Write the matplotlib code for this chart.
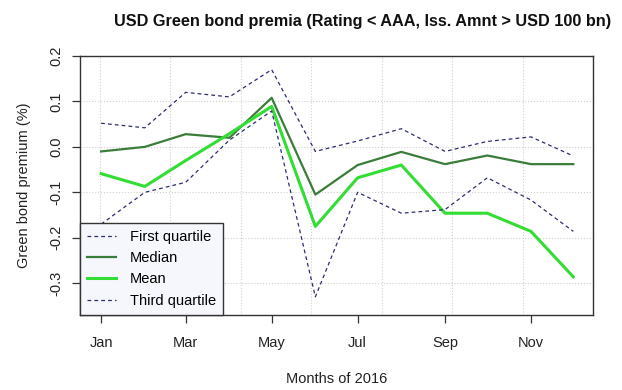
import matplotlib
matplotlib.use("Agg")
import matplotlib.pyplot as plt
import numpy as np

months = np.arange("2016-01", "2017-01", dtype="datetime64[M]").astype("datetime64[D]")

first_quartile = [0.052, 0.042, 0.12, 0.11, 0.17, -0.01, 0.013, 0.04, -0.01, 0.012, 0.022, -0.02]
median = [-0.01, 0.0, 0.028, 0.02, 0.108, -0.105, -0.04, -0.011, -0.038, -0.019, -0.038, -0.038]
mean = [-0.059, -0.087, -0.03, 0.029, 0.089, -0.175, -0.068, -0.04, -0.146, -0.146, -0.186, -0.286]
third_quartile = [-0.17, -0.1, -0.078, 0.015, 0.079, -0.33, -0.1, -0.146, -0.138, -0.068, -0.117, -0.186]

tick_months = ["Jan", "Mar", "May", "Jul", "Sep", "Nov"]
y_ticks = [-0.3, -0.2, -0.1, 0.0, 0.1, 0.2]

plt.rcParams["font.family"] = ["Liberation Sans", "DejaVu Sans"]

fig = plt.figure(figsize=(6.22, 3.9), dpi=100)
ax = fig.add_axes([0.1286, 0.1923, 0.8248, 0.6641])

quart_color = "#2c2c70"
ax.plot(months, first_quartile, color=quart_color, lw=0.9, ls=(0, (3, 2.5)),
        label="First quartile", zorder=3)
ax.plot(months, median, color="#3a7d3a", lw=1.6, label="Median", zorder=3)
ax.plot(months, mean, color="#33dd33", lw=2.2, label="Mean", zorder=3)
ax.plot(months, third_quartile, color=quart_color, lw=0.9, ls=(0, (3, 2.5)),
        label="Third quartile", zorder=3)

# grid follows plain day numbers every 50 days, like base graphics
day0 = np.datetime64("1970-01-01")
grid_days = [day0 + np.timedelta64(int(d), "D") for d in range(16800, 17200, 50)]
for g in grid_days:
    ax.axvline(g, color="#d0d0d0", lw=0.8, ls=":", zorder=1)
for v in y_ticks:
    ax.axhline(v, color="#d0d0d0", lw=0.8, ls=":", zorder=1)

ax.set_xlim(np.datetime64("2015-12-17"), np.datetime64("2016-12-15"))
ax.set_ylim(-0.37, 0.2)

tick_dates = [np.datetime64(f"2016-{m:02d}-01") for m in (1, 3, 5, 7, 9, 11)]
ax.set_xticks(tick_dates)
ax.set_xticklabels(tick_months, fontsize=10.5, color="#222222")
ax.set_yticks(y_ticks)
ax.set_yticklabels([f"{v:.1f}" for v in y_ticks], rotation=90, va="center",
                   fontsize=10.5, color="#222222")
ax.tick_params(axis="both", length=6, width=0.9, color="#333333", direction="out")
ax.tick_params(axis="x", pad=9)
ax.tick_params(axis="y", pad=6)

for s in ax.spines.values():
    s.set_color("#333333")
    s.set_linewidth(1.0)

ax.set_xlabel("Months of 2016", fontsize=10.5, color="#222222", labelpad=16)
ax.set_ylabel("Green bond premium (%)", fontsize=10.5, color="#222222", labelpad=13)
fig.text(0.583, 0.946, "USD Green bond premia (Rating < AAA, Iss. Amnt > USD 100 bn)",
         ha="center", va="center", fontsize=11.7, fontweight="bold", color="#111111")

leg = ax.legend(loc="lower left", bbox_to_anchor=(0, 0), fontsize=10.5, frameon=True,
                fancybox=False, borderaxespad=0, handlelength=2.0, handletextpad=0.9,
                labelspacing=0.5, borderpad=0.5)
leg.get_frame().set_edgecolor("#333333")
leg.get_frame().set_facecolor("#f5f7fc")
leg.get_frame().set_alpha(1)
leg.get_frame().set_linewidth(1.0)

fig.savefig("out.png", dpi=100)
